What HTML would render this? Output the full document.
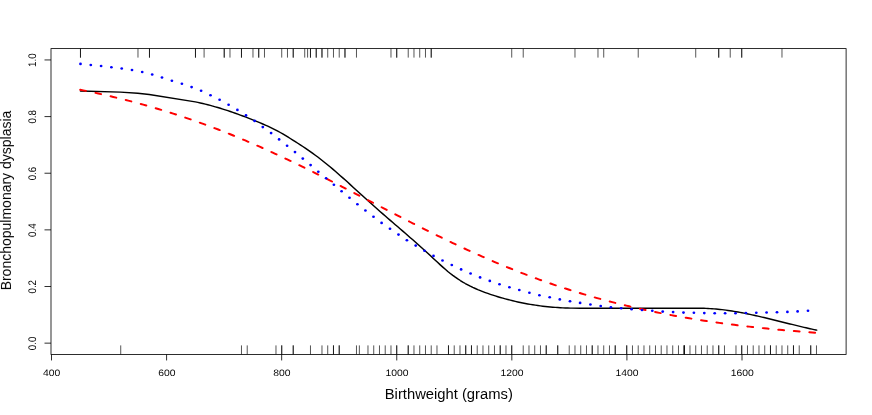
<!DOCTYPE html>
<html><head><meta charset="utf-8"><title>Bronchopulmonary dysplasia vs birthweight</title>
<style>
html,body{margin:0;padding:0;background:#fff;}
body{width:872px;height:415px;overflow:hidden;font-family:"Liberation Sans",sans-serif;}
svg{display:block;}
</style></head><body>
<svg width="872" height="415" viewBox="0 0 872 415">
<rect x="0" y="0" width="872" height="415" fill="#fff"/>
<g stroke="#000" stroke-width="0.67" fill="none"><path d="M80.48,48.6V57.6"/><path d="M137.98,48.6V57.6"/><path d="M149.48,48.6V57.6"/><path d="M195.48,48.6V57.6"/><path d="M204.10,48.6V57.6"/><path d="M224.23,48.6V57.6"/><path d="M229.98,48.6V57.6"/><path d="M241.48,48.6V57.6"/><path d="M252.98,48.6V57.6"/><path d="M258.73,48.6V57.6"/><path d="M264.48,48.6V57.6"/><path d="M281.73,48.6V57.6"/><path d="M287.48,48.6V57.6"/><path d="M293.23,48.6V57.6"/><path d="M304.73,48.6V57.6"/><path d="M307.60,48.6V57.6"/><path d="M310.48,48.6V57.6"/><path d="M316.23,48.6V57.6"/><path d="M321.98,48.6V57.6"/><path d="M327.73,48.6V57.6"/><path d="M333.48,48.6V57.6"/><path d="M339.23,48.6V57.6"/><path d="M344.98,48.6V57.6"/><path d="M356.48,48.6V57.6"/><path d="M390.98,48.6V57.6"/><path d="M396.73,48.6V57.6"/><path d="M408.23,48.6V57.6"/><path d="M413.98,48.6V57.6"/><path d="M419.73,48.6V57.6"/><path d="M425.48,48.6V57.6"/><path d="M431.23,48.6V57.6"/><path d="M511.73,48.6V57.6"/><path d="M523.23,48.6V57.6"/><path d="M574.98,48.6V57.6"/><path d="M597.98,48.6V57.6"/><path d="M603.73,48.6V57.6"/><path d="M638.23,48.6V57.6"/><path d="M695.73,48.6V57.6"/><path d="M718.73,48.6V57.6"/><path d="M730.23,48.6V57.6"/><path d="M741.73,48.6V57.6"/><path d="M781.98,48.6V57.6"/><path d="M80.48,48.6V57.6"/><path d="M149.48,48.6V57.6"/><path d="M195.48,48.6V57.6"/><path d="M224.23,48.6V57.6"/><path d="M241.48,48.6V57.6"/><path d="M258.73,48.6V57.6"/><path d="M293.23,48.6V57.6"/><path d="M310.48,48.6V57.6"/><path d="M316.23,48.6V57.6"/><path d="M321.98,48.6V57.6"/><path d="M344.98,48.6V57.6"/><path d="M396.73,48.6V57.6"/><path d="M431.23,48.6V57.6"/><path d="M718.73,48.6V57.6"/><path d="M741.73,48.6V57.6"/><path d="M120.73,354.4V345.4"/><path d="M241.48,354.4V345.4"/><path d="M247.23,354.4V345.4"/><path d="M275.98,354.4V345.4"/><path d="M281.73,354.4V345.4"/><path d="M293.23,354.4V345.4"/><path d="M310.48,354.4V345.4"/><path d="M321.98,354.4V345.4"/><path d="M327.73,354.4V345.4"/><path d="M333.48,354.4V345.4"/><path d="M339.23,354.4V345.4"/><path d="M356.48,354.4V345.4"/><path d="M359.36,354.4V345.4"/><path d="M367.98,354.4V345.4"/><path d="M373.73,354.4V345.4"/><path d="M379.48,354.4V345.4"/><path d="M385.23,354.4V345.4"/><path d="M390.98,354.4V345.4"/><path d="M396.73,354.4V345.4"/><path d="M408.23,354.4V345.4"/><path d="M413.98,354.4V345.4"/><path d="M419.73,354.4V345.4"/><path d="M425.48,354.4V345.4"/><path d="M431.23,354.4V345.4"/><path d="M436.98,354.4V345.4"/><path d="M448.48,354.4V345.4"/><path d="M454.23,354.4V345.4"/><path d="M459.98,354.4V345.4"/><path d="M465.73,354.4V345.4"/><path d="M471.48,354.4V345.4"/><path d="M477.23,354.4V345.4"/><path d="M482.98,354.4V345.4"/><path d="M488.73,354.4V345.4"/><path d="M494.48,354.4V345.4"/><path d="M500.23,354.4V345.4"/><path d="M505.98,354.4V345.4"/><path d="M511.73,354.4V345.4"/><path d="M523.23,354.4V345.4"/><path d="M528.98,354.4V345.4"/><path d="M534.73,354.4V345.4"/><path d="M540.48,354.4V345.4"/><path d="M546.23,354.4V345.4"/><path d="M557.73,354.4V345.4"/><path d="M569.23,354.4V345.4"/><path d="M574.98,354.4V345.4"/><path d="M580.73,354.4V345.4"/><path d="M586.48,354.4V345.4"/><path d="M592.23,354.4V345.4"/><path d="M597.98,354.4V345.4"/><path d="M603.73,354.4V345.4"/><path d="M609.48,354.4V345.4"/><path d="M615.23,354.4V345.4"/><path d="M626.73,354.4V345.4"/><path d="M632.48,354.4V345.4"/><path d="M638.23,354.4V345.4"/><path d="M643.98,354.4V345.4"/><path d="M649.73,354.4V345.4"/><path d="M655.48,354.4V345.4"/><path d="M661.23,354.4V345.4"/><path d="M666.98,354.4V345.4"/><path d="M672.73,354.4V345.4"/><path d="M678.48,354.4V345.4"/><path d="M684.23,354.4V345.4"/><path d="M689.98,354.4V345.4"/><path d="M695.73,354.4V345.4"/><path d="M701.48,354.4V345.4"/><path d="M707.23,354.4V345.4"/><path d="M712.98,354.4V345.4"/><path d="M718.73,354.4V345.4"/><path d="M724.48,354.4V345.4"/><path d="M735.98,354.4V345.4"/><path d="M741.73,354.4V345.4"/><path d="M747.48,354.4V345.4"/><path d="M753.23,354.4V345.4"/><path d="M758.98,354.4V345.4"/><path d="M764.73,354.4V345.4"/><path d="M770.48,354.4V345.4"/><path d="M776.23,354.4V345.4"/><path d="M781.98,354.4V345.4"/><path d="M787.73,354.4V345.4"/><path d="M793.48,354.4V345.4"/><path d="M799.23,354.4V345.4"/><path d="M810.73,354.4V345.4"/><path d="M816.48,354.4V345.4"/><path d="M281.73,354.4V345.4"/><path d="M293.23,354.4V345.4"/><path d="M333.48,354.4V345.4"/><path d="M339.23,354.4V345.4"/><path d="M396.73,354.4V345.4"/><path d="M408.23,354.4V345.4"/><path d="M448.48,354.4V345.4"/><path d="M465.73,354.4V345.4"/><path d="M471.48,354.4V345.4"/><path d="M500.23,354.4V345.4"/><path d="M511.73,354.4V345.4"/><path d="M546.23,354.4V345.4"/><path d="M557.73,354.4V345.4"/><path d="M592.23,354.4V345.4"/><path d="M615.23,354.4V345.4"/><path d="M626.73,354.4V345.4"/><path d="M684.23,354.4V345.4"/><path d="M684.23,354.4V345.4"/><path d="M684.23,354.4V345.4"/><path d="M718.73,354.4V345.4"/><path d="M741.73,354.4V345.4"/><path d="M770.48,354.4V345.4"/><path d="M793.48,354.4V345.4"/><path d="M810.73,354.4V345.4"/></g>
<g transform="scale(1.026,0.975)">
<path d="M78.46,93.33 L117.45,94.46 L134.26,95.59 L145.47,96.87 L190.35,104.53 L192.79,105.06 L195.22,105.61 L197.66,106.20 L200.10,106.82 L202.53,107.46 L204.97,108.13 L207.41,108.83 L209.84,109.55 L212.28,110.30 L214.72,111.07 L217.15,111.86 L219.59,112.68 L222.03,113.52 L224.46,114.38 L226.90,115.26 L229.34,116.16 L231.77,117.08 L234.21,118.02 L236.65,118.98 L239.08,119.95 L241.52,120.94 L243.96,121.94 L246.39,122.96 L248.83,123.99 L251.27,125.03 L253.70,126.10 L256.14,127.18 L258.58,128.30 L261.01,129.45 L263.45,130.64 L265.89,131.88 L268.32,133.16 L270.76,134.50 L273.20,135.91 L275.63,137.37 L278.07,138.89 L280.51,140.46 L282.94,142.05 L285.38,143.67 L287.82,145.30 L290.25,146.94 L292.69,148.60 L295.13,150.29 L297.56,152.00 L300.00,153.74 L302.44,155.51 L304.87,157.33 L307.31,159.19 L309.75,161.09 L312.18,163.05 L314.62,165.05 L317.06,167.10 L319.49,169.19 L321.93,171.32 L324.37,173.48 L326.80,175.68 L329.24,177.91 L331.68,180.16 L334.11,182.43 L336.55,184.72 L338.99,187.03 L341.42,189.36 L343.86,191.69 L346.30,194.03 L348.73,196.37 L351.17,198.72 L353.61,201.06 L356.04,203.40 L358.48,205.72 L360.92,208.04 L363.35,210.34 L365.79,212.62 L368.23,214.89 L370.66,217.14 L373.10,219.37 L375.54,221.60 L377.97,223.82 L380.41,226.03 L382.85,228.23 L385.28,230.44 L387.72,232.64 L390.16,234.85 L392.59,237.06 L395.03,239.28 L397.47,241.51 L399.90,243.75 L402.34,246.00 L404.78,248.27 L407.21,250.55 L409.65,252.85 L412.09,255.16 L414.52,257.48 L416.96,259.82 L419.40,262.17 L421.83,264.54 L424.27,266.92 L426.71,269.30 L429.14,271.67 L431.58,273.98 L434.02,276.23 L436.45,278.39 L438.89,280.45 L441.33,282.42 L443.76,284.29 L446.20,286.06 L448.64,287.73 L451.07,289.30 L453.51,290.79 L455.95,292.18 L458.38,293.50 L460.82,294.74 L463.26,295.91 L465.69,297.03 L468.13,298.08 L470.57,299.08 L473.00,300.04 L475.44,300.96 L477.88,301.84 L480.31,302.70 L482.75,303.52 L485.19,304.32 L487.62,305.09 L490.06,305.83 L492.50,306.54 L494.93,307.22 L497.37,307.88 L499.81,308.51 L502.24,309.12 L504.68,309.69 L507.12,310.24 L509.55,310.77 L511.99,311.26 L514.42,311.73 L516.86,312.18 L519.30,312.60 L521.73,313.00 L524.17,313.37 L526.61,313.71 L529.04,314.03 L531.48,314.33 L533.92,314.60 L536.35,314.85 L538.79,315.08 L541.23,315.28 L543.66,315.46 L546.10,315.61 L548.54,315.75 L550.97,315.86 L553.41,315.94 L555.85,316.01 L557.50,316.04 L565.30,316.15 L682.26,316.15 L684.21,316.19 L686.16,316.23 L688.11,316.30 L690.06,316.39 L692.01,316.50 L693.96,316.63 L695.91,316.79 L697.86,316.96 L699.81,317.16 L701.75,317.37 L703.70,317.60 L705.65,317.85 L707.60,318.12 L709.55,318.40 L711.50,318.70 L713.45,319.01 L715.40,319.34 L717.35,319.69 L719.30,320.05 L721.25,320.42 L723.20,320.80 L725.15,321.20 L727.10,321.60 L729.04,322.02 L730.99,322.45 L732.94,322.89 L734.89,323.33 L736.84,323.79 L738.79,324.25 L740.74,324.72 L742.69,325.20 L744.64,325.68 L746.59,326.17 L748.54,326.66 L750.49,327.16 L752.44,327.66 L754.39,328.17 L756.34,328.67 L758.28,329.18 L760.23,329.69 L762.18,330.20 L764.13,330.72 L766.08,331.23 L768.03,331.74 L769.98,332.25 L771.93,332.75 L773.88,333.26 L775.83,333.76 L777.78,334.26 L779.73,334.75 L781.68,335.24 L783.63,335.72 L785.58,336.20 L787.52,336.67 L789.47,337.13 L791.42,337.58 L793.37,338.03 L795.32,338.46 L796.00,338.61" stroke="#000" stroke-width="1.45" fill="none" stroke-linecap="round" stroke-linejoin="round"/>
<path d="M78.22,92.07 L81.14,92.69 L84.06,93.31 L86.99,93.94 L89.91,94.59 L92.84,95.24 L95.76,95.91 L98.68,96.59 L101.61,97.28 L104.53,97.98 L107.46,98.69 L110.38,99.42 L113.30,100.15 L116.23,100.90 L119.15,101.66 L122.08,102.43 L125.00,103.22 L127.92,104.02 L130.85,104.83 L133.77,105.65 L136.70,106.48 L139.62,107.33 L142.54,108.19 L145.47,109.07 L148.39,109.95 L151.32,110.85 L154.24,111.77 L157.16,112.69 L160.09,113.63 L163.01,114.58 L165.94,115.55 L168.86,116.53 L171.78,117.52 L174.71,118.53 L177.63,119.55 L180.56,120.58 L183.48,121.63 L186.40,122.69 L189.33,123.77 L192.25,124.86 L195.18,125.96 L198.10,127.07 L201.02,128.20 L203.95,129.34 L206.87,130.50 L209.80,131.67 L212.72,132.85 L215.64,134.05 L218.57,135.26 L221.49,136.48 L224.42,137.71 L227.34,138.96 L230.26,140.22 L233.19,141.50 L236.11,142.78 L239.04,144.08 L241.96,145.40 L244.88,146.72 L247.81,148.06 L250.73,149.40 L253.65,150.76 L256.58,152.13 L259.50,153.52 L262.43,154.91 L265.35,156.31 L268.27,157.73 L271.20,159.16 L274.12,160.59 L277.05,162.04 L279.97,163.49 L282.89,164.96 L285.82,166.43 L288.74,167.92 L291.67,169.41 L294.59,170.91 L297.51,172.42 L300.44,173.94 L303.36,175.46 L306.29,177.00 L309.21,178.53 L312.13,180.08 L315.06,181.63 L317.98,183.19 L320.91,184.75 L323.83,186.32 L326.75,187.89 L329.68,189.47 L332.60,191.05 L335.53,192.64 L338.45,194.23 L341.37,195.82 L344.30,197.41 L347.22,199.01 L350.15,200.61 L353.07,202.21 L355.99,203.81 L358.92,205.41 L361.84,207.01 L364.77,208.61 L367.69,210.21 L370.61,211.82 L373.54,213.41 L376.46,215.01 L379.39,216.61 L382.31,218.20 L385.23,219.79 L388.16,221.38 L391.08,222.96 L394.01,224.54 L396.93,226.12 L399.85,227.69 L402.78,229.25 L405.70,230.81 L408.63,232.37 L411.55,233.92 L414.47,235.46 L417.40,236.99 L420.32,238.52 L423.25,240.04 L426.17,241.56 L429.09,243.06 L432.02,244.56 L434.94,246.05 L437.87,247.53 L440.79,249.00 L443.71,250.46 L446.64,251.91 L449.56,253.35 L452.49,254.78 L455.41,256.20 L458.33,257.61 L461.26,259.01 L464.18,260.40 L467.11,261.78 L470.03,263.14 L472.95,264.50 L475.88,265.84 L478.80,267.17 L481.73,268.49 L484.65,269.79 L487.57,271.08 L490.50,272.36 L493.42,273.63 L496.35,274.89 L499.27,276.13 L502.19,277.36 L505.12,278.57 L508.04,279.78 L510.96,280.97 L513.89,282.14 L516.81,283.30 L519.74,284.45 L522.66,285.59 L525.58,286.71 L528.51,287.82 L531.43,288.92 L534.36,290.00 L537.28,291.06 L540.20,292.12 L543.13,293.16 L546.05,294.19 L548.98,295.20 L551.90,296.20 L554.82,297.19 L557.75,298.16 L560.67,299.12 L563.60,300.07 L566.52,301.00 L569.44,301.92 L572.37,302.82 L575.29,303.72 L578.22,304.60 L581.14,305.47 L584.06,306.32 L586.99,307.16 L589.91,307.99 L592.84,308.81 L595.76,309.61 L598.68,310.40 L601.61,311.18 L604.53,311.95 L607.46,312.70 L610.38,313.44 L613.30,314.17 L616.23,314.89 L619.15,315.60 L622.08,316.30 L625.00,316.98 L627.92,317.65 L630.85,318.31 L633.77,318.96 L636.70,319.60 L639.62,320.23 L642.54,320.85 L645.47,321.45 L648.39,322.05 L651.32,322.64 L654.24,323.21 L657.16,323.78 L660.09,324.34 L663.01,324.88 L665.94,325.42 L668.86,325.94 L671.78,326.46 L674.71,326.97 L677.63,327.47 L680.56,327.96 L683.48,328.44 L686.40,328.91 L689.33,329.37 L692.25,329.83 L695.18,330.28 L698.10,330.71 L701.02,331.14 L703.95,331.56 L706.87,331.98 L709.80,332.38 L712.72,332.78 L715.64,333.17 L718.57,333.56 L721.49,333.93 L724.42,334.30 L727.34,334.66 L730.26,335.02 L733.19,335.37 L736.11,335.71 L739.04,336.04 L741.96,336.37 L744.88,336.69 L747.81,337.01 L750.73,337.32 L753.65,337.62 L756.58,337.92 L759.50,338.21 L762.43,338.50 L765.35,338.78 L768.27,339.05 L771.20,339.32 L774.12,339.58 L777.05,339.84 L779.97,340.09 L782.89,340.34 L785.82,340.59 L788.74,340.82 L791.67,341.06 L794.59,341.29 L795.57,341.36" stroke="#f00" stroke-width="2.0" fill="none" stroke-linecap="round" stroke-linejoin="round" stroke-dasharray="5.6 9.588"/>
<g fill="#00f"><ellipse cx="78.46" cy="65.54" rx="1.35" ry="1.35"/><ellipse cx="88.50" cy="66.67" rx="1.35" ry="1.35"/><ellipse cx="98.54" cy="67.69" rx="1.35" ry="1.35"/><ellipse cx="108.58" cy="68.92" rx="1.35" ry="1.35"/><ellipse cx="118.62" cy="70.26" rx="1.35" ry="1.35"/><ellipse cx="128.65" cy="71.79" rx="1.35" ry="1.35"/><ellipse cx="138.60" cy="73.85" rx="1.35" ry="1.35"/><ellipse cx="148.34" cy="76.41" rx="1.35" ry="1.35"/><ellipse cx="157.89" cy="79.54" rx="1.35" ry="1.35"/><ellipse cx="167.54" cy="82.87" rx="1.35" ry="1.35"/><ellipse cx="177.29" cy="85.95" rx="1.35" ry="1.35"/><ellipse cx="186.74" cy="89.33" rx="1.35" ry="1.35"/><ellipse cx="196.00" cy="93.13" rx="1.35" ry="1.35"/><ellipse cx="205.17" cy="97.69" rx="1.35" ry="1.35"/><ellipse cx="214.04" cy="102.36" rx="1.35" ry="1.35"/><ellipse cx="222.81" cy="107.49" rx="1.35" ry="1.35"/><ellipse cx="231.38" cy="112.72" rx="1.35" ry="1.35"/><ellipse cx="239.77" cy="118.36" rx="1.35" ry="1.35"/><ellipse cx="248.15" cy="124.00" rx="1.35" ry="1.35"/><ellipse cx="256.14" cy="130.36" rx="1.35" ry="1.35"/><ellipse cx="264.23" cy="136.51" rx="1.35" ry="1.35"/><ellipse cx="272.03" cy="142.97" rx="1.35" ry="1.35"/><ellipse cx="279.82" cy="149.44" rx="1.35" ry="1.35"/><ellipse cx="287.52" cy="156.00" rx="1.35" ry="1.35"/><ellipse cx="295.13" cy="162.67" rx="1.35" ry="1.35"/><ellipse cx="302.73" cy="169.33" rx="1.35" ry="1.35"/><ellipse cx="310.23" cy="176.10" rx="1.35" ry="1.35"/><ellipse cx="317.84" cy="182.77" rx="1.35" ry="1.35"/><ellipse cx="325.44" cy="189.44" rx="1.35" ry="1.35"/><ellipse cx="332.94" cy="196.21" rx="1.35" ry="1.35"/><ellipse cx="340.64" cy="202.87" rx="1.35" ry="1.35"/><ellipse cx="348.34" cy="209.44" rx="1.35" ry="1.35"/><ellipse cx="356.14" cy="215.90" rx="1.35" ry="1.35"/><ellipse cx="364.04" cy="222.26" rx="1.35" ry="1.35"/><ellipse cx="371.93" cy="228.62" rx="1.35" ry="1.35"/><ellipse cx="380.12" cy="234.56" rx="1.35" ry="1.35"/><ellipse cx="388.40" cy="240.62" rx="1.35" ry="1.35"/><ellipse cx="396.59" cy="246.36" rx="1.35" ry="1.35"/><ellipse cx="405.17" cy="251.90" rx="1.35" ry="1.35"/><ellipse cx="413.74" cy="257.23" rx="1.35" ry="1.35"/><ellipse cx="422.51" cy="262.46" rx="1.35" ry="1.35"/><ellipse cx="431.29" cy="267.18" rx="1.35" ry="1.35"/><ellipse cx="440.35" cy="271.79" rx="1.35" ry="1.35"/><ellipse cx="449.42" cy="276.31" rx="1.35" ry="1.35"/><ellipse cx="458.67" cy="280.51" rx="1.35" ry="1.35"/><ellipse cx="467.93" cy="284.51" rx="1.35" ry="1.35"/><ellipse cx="477.39" cy="288.10" rx="1.35" ry="1.35"/><ellipse cx="486.84" cy="291.49" rx="1.35" ry="1.35"/><ellipse cx="496.49" cy="294.56" rx="1.35" ry="1.35"/><ellipse cx="506.14" cy="297.44" rx="1.35" ry="1.35"/><ellipse cx="515.98" cy="300.21" rx="1.35" ry="1.35"/><ellipse cx="525.73" cy="302.77" rx="1.35" ry="1.35"/><ellipse cx="535.77" cy="304.92" rx="1.35" ry="1.35"/><ellipse cx="545.61" cy="307.08" rx="1.35" ry="1.35"/><ellipse cx="555.56" cy="309.03" rx="1.35" ry="1.35"/><ellipse cx="565.40" cy="310.67" rx="1.35" ry="1.35"/><ellipse cx="575.44" cy="312.31" rx="1.35" ry="1.35"/><ellipse cx="585.48" cy="313.85" rx="1.35" ry="1.35"/><ellipse cx="595.42" cy="315.08" rx="1.35" ry="1.35"/><ellipse cx="605.46" cy="316.21" rx="1.35" ry="1.35"/><ellipse cx="615.59" cy="317.13" rx="1.35" ry="1.35"/><ellipse cx="625.73" cy="318.00" rx="1.35" ry="1.35"/><ellipse cx="635.77" cy="318.77" rx="1.35" ry="1.35"/><ellipse cx="645.91" cy="319.59" rx="1.35" ry="1.35"/><ellipse cx="656.04" cy="320.10" rx="1.35" ry="1.35"/><ellipse cx="666.18" cy="320.62" rx="1.35" ry="1.35"/><ellipse cx="676.32" cy="320.82" rx="1.35" ry="1.35"/><ellipse cx="686.45" cy="321.13" rx="1.35" ry="1.35"/><ellipse cx="696.59" cy="321.23" rx="1.35" ry="1.35"/><ellipse cx="706.73" cy="321.23" rx="1.35" ry="1.35"/><ellipse cx="716.86" cy="321.23" rx="1.35" ry="1.35"/><ellipse cx="727.00" cy="321.08" rx="1.35" ry="1.35"/><ellipse cx="737.13" cy="320.82" rx="1.35" ry="1.35"/><ellipse cx="747.17" cy="320.51" rx="1.35" ry="1.35"/><ellipse cx="757.31" cy="320.31" rx="1.35" ry="1.35"/><ellipse cx="767.45" cy="319.90" rx="1.35" ry="1.35"/><ellipse cx="777.39" cy="319.38" rx="1.35" ry="1.35"/><ellipse cx="787.52" cy="318.77" rx="1.35" ry="1.35"/></g>
</g>
<rect x="51.0" y="48.6" width="795.1" height="305.84999999999997" fill="none" stroke="#000" stroke-width="0.82"/>
<path d="M51.50,354.45V360.45M166.58,354.45V360.45M281.67,354.45V360.45M396.75,354.45V360.45M511.84,354.45V360.45M626.92,354.45V360.45M742.00,354.45V360.45M51.0,343.15H44.5M51.0,286.51H44.5M51.0,229.87H44.5M51.0,173.23H44.5M51.0,116.59H44.5M51.0,59.95H44.5" stroke="#000" stroke-width="0.82" fill="none"/>
<g font-family="Liberation Sans, sans-serif" font-size="10px" fill="#000" text-anchor="middle" opacity="0.99" text-rendering="geometricPrecision">
<text transform="translate(51.70,376.2) scale(1.035,0.93)">400</text>
<text transform="translate(166.78,376.2) scale(1.035,0.93)">600</text>
<text transform="translate(281.87,376.2) scale(1.035,0.93)">800</text>
<text transform="translate(396.95,376.2) scale(1.035,0.93)">1000</text>
<text transform="translate(512.04,376.2) scale(1.035,0.93)">1200</text>
<text transform="translate(627.12,376.2) scale(1.035,0.93)">1400</text>
<text transform="translate(742.20,376.2) scale(1.035,0.93)">1600</text>
<text font-size="10px" transform="translate(35.7,343.40) scale(1.1,0.975) rotate(-90)">0.0</text>
<text font-size="10px" transform="translate(35.7,286.76) scale(1.1,0.975) rotate(-90)">0.2</text>
<text font-size="10px" transform="translate(35.7,230.12) scale(1.1,0.975) rotate(-90)">0.4</text>
<text font-size="10px" transform="translate(35.7,173.48) scale(1.1,0.975) rotate(-90)">0.6</text>
<text font-size="10px" transform="translate(35.7,116.84) scale(1.1,0.975) rotate(-90)">0.8</text>
<text font-size="10px" transform="translate(35.7,60.20) scale(1.1,0.975) rotate(-90)">1.0</text>
</g>
<g font-family="Liberation Sans, sans-serif" font-size="14.4px" fill="#000" text-anchor="middle" opacity="0.99">
<text transform="translate(448.8,399.2) scale(1.027,0.973)">Birthweight (grams)</text>
<text transform="translate(11.3,200.5) scale(1.027,0.973) rotate(-90)">Bronchopulmonary dysplasia</text>
</g>
</svg>
</body></html>
